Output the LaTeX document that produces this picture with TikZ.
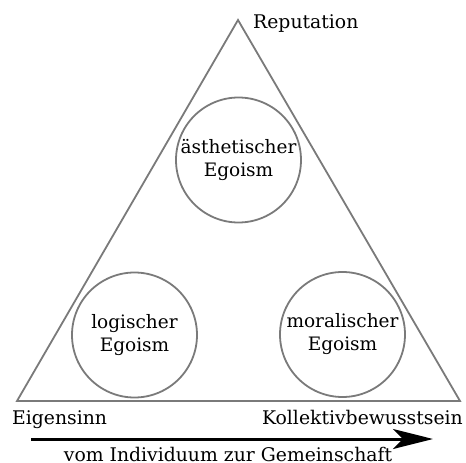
\documentclass[tikz,border=0pt]{standalone}
\usepackage{fontspec}
\setmainfont{DejaVu Serif}
\usetikzlibrary{arrows.meta}
\definecolor{edgegray}{RGB}{122,122,122}
\tikzset{
	egoism/.style={circle, draw=edgegray, line width=1.8pt, minimum size=125pt, inner sep=0pt, align=center, font=\fontsize{18.5}{23}\selectfont},
	pole/.style={font=\fontsize{18.8}{22}\selectfont, inner sep=0pt}
}
\begin{document}
\begin{tikzpicture}[x=1pt,y=-1pt]
	\useasboundingbox (0,0) rectangle (466,463);
	\coordinate (top) at (238,20);
	\coordinate (left) at (17,401);
	\coordinate (right) at (460,401);
	\draw [edgegray, line width =1.8pt, line join=miter] (top) -- (left) -- (right) -- cycle;
	\node [egoism] (aesth) at (238.5,160) {ästhetischer\\Egoism};
	\node [egoism] (logic) at (134.5,335) {logischer\\Egoism};
	\node [egoism] (moral) at (342.5,334.5) {moralischer\\Egoism};
	\node [pole, anchor=base west] (reput) at (253,28) {Reputation};
	\node [pole, anchor=base west] (eigen) at (12,424) {Eigensinn};
	\node [pole, anchor=base east] (kollekt) at (463,424) {Kollektivbewusstsein};
	\coordinate (from) at (31,439);
	\coordinate (to) at (433,439);
	\draw [line width =3pt,-{Stealth[length=40pt,width=20pt,inset=10pt]}] (from) -- (to);
	\node [pole, anchor=base] (gemein) at (228,461) {vom Individuum zur Gemeinschaft};
\end{tikzpicture}
\end{document}
